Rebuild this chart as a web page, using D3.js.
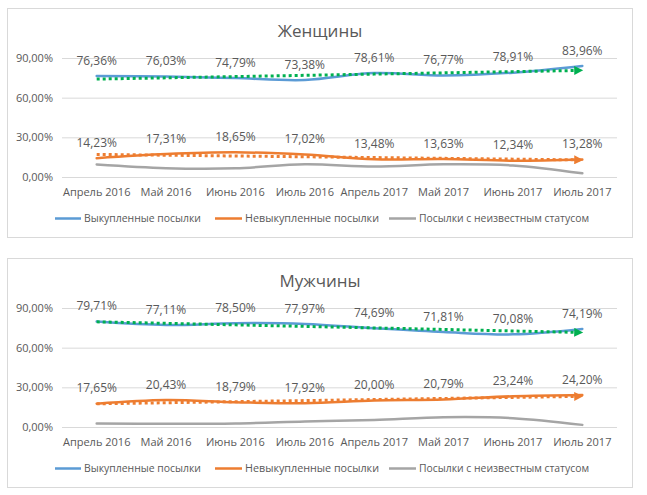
<!DOCTYPE html>
<html><head><meta charset="utf-8">
<script src="https://cdn.jsdelivr.net/npm/d3@7"></script>
<style>
html,body{margin:0;padding:0;background:#fff;}
svg text{font-family:"Open Sans","Noto Sans",sans-serif;fill:#595959;}
</style></head>
<body><svg id="c" width="647" height="495"></svg>
<script>
const categories = ["Апрель 2016","Май 2016","Июнь 2016","Июль 2016","Апрель 2017","Май 2017","Июнь 2017","Июль 2017"];
const seriesNames = ["Выкупленные посылки","Невыкупленные посылки","Посылки с неизвестным статусом"];
const yTicks = [0, 30, 60, 90];
const womenTitle = "Женщины";
const womenBought = [76.36, 76.03, 74.79, 73.38, 78.61, 76.77, 78.91, 83.96];
const womenNotBought = [14.23, 17.31, 18.65, 17.02, 13.48, 13.63, 12.34, 13.28];
const womenUnknown = [9.41, 6.66, 6.56, 9.60, 7.91, 9.60, 8.75, 2.76];
const menTitle = "Мужчины";
const menBought = [79.71, 77.11, 78.50, 77.97, 74.69, 71.81, 70.08, 74.19];
const menNotBought = [17.65, 20.43, 18.79, 17.92, 20.00, 20.79, 23.24, 24.20];
const menUnknown = [2.64, 2.46, 2.71, 4.11, 5.31, 7.40, 6.68, 1.61];

const colors = ["#5B9BD5", "#ED7D31", "#A5A5A5"];
const trendColors = ["#00B050", "#ED7D31"];
const svg = d3.select("#c");
const fmt = v => v.toFixed(2).replace(".", ",") + "%";

const defs = svg.append("defs");
trendColors.forEach((c, i) => {
  defs.append("marker").attr("id", "arr" + i)
    .attr("viewBox", "0 0 10 10").attr("refX", 9).attr("refY", 5)
    .attr("markerWidth", 3.4).attr("markerHeight", 3.0)
    .attr("markerUnits", "strokeWidth").attr("orient", "auto")
    .append("path").attr("d", "M0,0 L10,5 L0,10 Z").attr("fill", c);
});

function linReg(vals) {
  const n = vals.length, mx = (n - 1) / 2, my = d3.mean(vals);
  let sxy = 0, sxx = 0;
  vals.forEach((v, i) => { sxy += (i - mx) * (v - my); sxx += (i - mx) * (i - mx); });
  const b = sxy / sxx, a = my - b * mx;
  return vals.map((v, i) => a + b * i);
}

function panel(dy, title, data) {
  const g = svg.append("g").attr("transform", `translate(0,${dy})`);
  g.append("rect").attr("x", 7.5).attr("y", 8.5).attr("width", 625).attr("height", 229)
    .attr("fill", "#fff").attr("stroke", "#D9D9D9");
  const x = d3.scaleBand().domain(categories).range([62, 617]);
  const y = d3.scaleLinear().domain([0, 90]).range([177, 58]);
  const cx = c => x(c) + x.bandwidth() / 2;

  g.append("text").attr("x", 320).attr("y", 37).attr("text-anchor", "middle")
    .style("font-size", "17px").text(title);

  g.append("g").selectAll("line").data(yTicks).join("line")
    .attr("x1", 62).attr("x2", 617).attr("y1", d => y(d) + 0.5).attr("y2", d => y(d) + 0.5)
    .attr("stroke", "#D9D9D9");
  g.append("g").selectAll("text").data(yTicks).join("text")
    .attr("x", 53).attr("y", d => y(d)).attr("dy", "0.35em").attr("text-anchor", "end")
    .style("font-size", "11px").text(d => d.toFixed(2).replace(".", ",") + "%");
  g.append("g").selectAll("text").data(categories).join("text")
    .attr("x", d => cx(d)).attr("y", 192).attr("dy", "0.35em").attr("text-anchor", "middle")
    .style("font-size", "11px").text(d => d);

  const line = d3.line().x((d, i) => cx(categories[i])).y(d => y(d)).curve(d3.curveCatmullRom.alpha(0.5));
  const sline = d3.line().x((d, i) => cx(categories[i])).y(d => y(d));

  [2, 1, 0].forEach(k => {
    g.append("path").attr("d", line(data[k])).attr("fill", "none")
      .attr("stroke", colors[k]).attr("stroke-width", 2.5).attr("stroke-linecap", "round");
  });
  [0, 1].forEach(k => {
    const t = linReg(data[k]);
    g.append("path").attr("d", sline(t)).attr("fill", "none")
      .attr("stroke", trendColors[k]).attr("stroke-width", 3)
      .attr("stroke-dasharray", "3 3").attr("marker-end", `url(#arr${k})`);
  });
  [0, 1].forEach(k => {
    g.append("g").selectAll("text").data(data[k]).join("text")
      .attr("x", (d, i) => cx(categories[i])).attr("y", d => y(d) - 15.5).attr("dy", "0.35em")
      .attr("text-anchor", "middle").style("font-size", "12px").text(d => fmt(d));
  });
  const lx = [[55, 84], [215, 245], [389, 419]];
  const lw = [117, 134, 170];
  seriesNames.forEach((n, k) => {
    g.append("line").attr("x1", lx[k][0]).attr("x2", lx[k][1] - 3).attr("y1", 218.5).attr("y2", 218.5)
      .attr("stroke", colors[k]).attr("stroke-width", 2.5);
    g.append("text").attr("x", lx[k][1]).attr("y", 218.5).attr("dy", "0.35em")
      .attr("textLength", lw[k]).attr("lengthAdjust", "spacingAndGlyphs")
      .style("font-size", "11px").text(n);
  });
}

panel(0, womenTitle, [womenBought, womenNotBought, womenUnknown]);
panel(250, menTitle, [menBought, menNotBought, menUnknown]);
</script></body></html>
